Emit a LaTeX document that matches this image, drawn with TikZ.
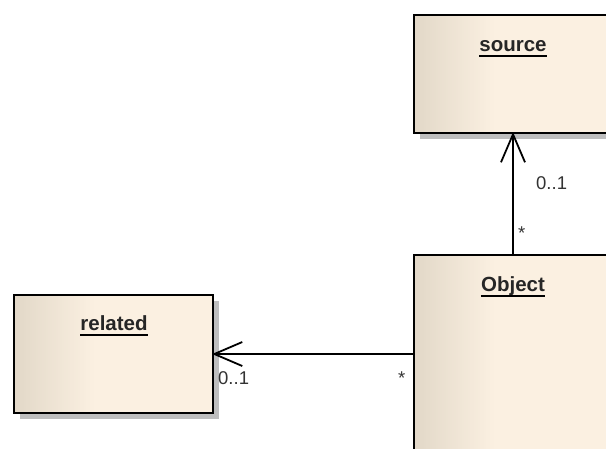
\documentclass[tikz,border=0pt]{standalone}
\usepackage{fontspec}
\setmainfont{Liberation Sans}
\usetikzlibrary{arrows.meta,shadows}
\definecolor{boxdark}{HTML}{E2D8C8}
\definecolor{boxlight}{HTML}{FBF0E1}
\definecolor{shadowgray}{HTML}{BEBEBE}
\tikzset{
  cls/.style={rectangle, draw=black, line width=1.5pt, inner sep=0pt, anchor=north west,
    fill=boxlight,
    path picture={\foreach \i in {0,...,39}{
        \pgfmathsetmacro{\pc}{100-\i*2.5}
        \fill[boxdark!\pc!boxlight] ([xshift=\i*2pt]path picture bounding box.south west)
          rectangle ([xshift=\i*2pt+2.4pt]path picture bounding box.north west);}},
    drop shadow={shadow xshift=6pt, shadow yshift=-6pt, fill=shadowgray, opacity=1}},
  title/.style={font=\fontsize{20.5}{24}\selectfont\bfseries, text=black!85, inner sep=0pt, anchor=base},
  mult/.style={font=\fontsize{18.5}{21}\selectfont, text=black!80, inner sep=0pt},
  assoc/.style={draw=black, line width=1.8pt, -{Straight Barb[length=28pt,width=24pt,line width=1.8pt]}}
}
\begin{document}
\begin{tikzpicture}[x=1pt,y=-1pt]
\useasboundingbox (0,0) rectangle (606,448);
\clip (0,0) rectangle (606,448);
\node[cls, minimum width=200pt, minimum height=118pt] (source) at (413,14) {};
\node[cls, minimum width=200pt, minimum height=210pt] (object) at (413,254) {};
\node[cls, minimum width=199pt, minimum height=118pt] (related) at (13,294) {};
\node[title] (tsource) at (513,51) {source};
\node[title] (tobject) at (513,291) {Object};
\node[title] (trelated) at (114,330) {related};
\foreach \t in {tsource,tobject,trelated}{
  \draw[line width=1.6pt] ([yshift=-5pt]\t.base west) -- ([yshift=-5pt]\t.base east);
}
\coordinate (otop) at (513,254);
\coordinate (sbot) at (513,132);
\coordinate (oleft) at (413,354);
\coordinate (rright) at (212,354);
\draw[assoc] (otop) -- (sbot);
\draw[assoc] (oleft) -- (rright);
\node[mult, anchor=west] (m1) at (536,183) {0..1};
\node[mult, anchor=west] (m2) at (518,233) {*};
\node[mult, anchor=west] (m3) at (218,378) {0..1};
\node[mult, anchor=west] (m4) at (398,378) {*};
\end{tikzpicture}
\end{document}
